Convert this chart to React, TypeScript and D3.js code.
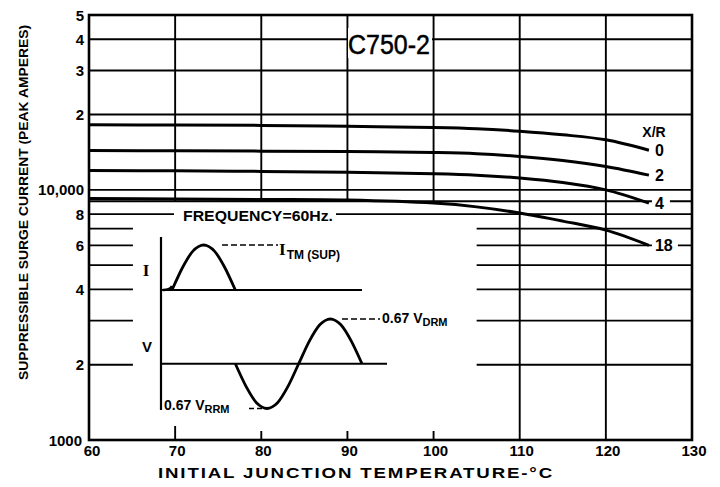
import React, { useEffect, useRef } from "react"
import * as d3 from "d3"

// initial junction temperature, deg C
const TEMPS = [60, 70, 80, 90, 100, 105, 110, 115, 120, 125]
// suppressible surge current (peak amperes) for each X/R ratio
const XR_0 = [18200, 18150, 18100, 17950, 17750, 17550, 17150, 16600, 15850, 14400]
const XR_2 = [14350, 14320, 14280, 14230, 14100, 13950, 13600, 13100, 12400, 11450]
const XR_4 = [11950, 11920, 11850, 11750, 11600, 11450, 11150, 10700, 10000, 8850]
const XR_18 = [9230, 9200, 9150, 9100, 8850, 8550, 8080, 7500, 6900, 6000]
const XR_LABELS = ["0", "2", "4", "18"]

const X_TICKS = [60, 70, 80, 90, 100, 110, 120, 130]
const Y_TICKS = [50000, 40000, 30000, 20000, 10000, 8000, 6000, 4000, 2000]
const Y_TICK_LABELS = ["5", "4", "3", "2", "10,000", "8", "6", "4", "2"]
const FULL_GRID = [40000, 30000, 20000, 10000, 9000, 8000]
const SPLIT_GRID = [7000, 6000, 5000, 4000, 3000, 2000]

// inset waveforms: phase in degrees, level as fraction of peak
const I_WAVE = [[0, 0], [30, 0.5], [60, 0.87], [90, 1], [120, 0.87], [150, 0.5], [180, 0]]
const V_WAVE = [
  [180, 0], [210, -0.5], [240, -0.87], [270, -1], [300, -0.87], [330, -0.5], [360, 0],
  [390, 0.5], [420, 0.87], [450, 1], [480, 0.87], [510, 0.5], [540, 0],
]

const W = 720
const H = 487
const SANS = "'Liberation Sans', Arial, sans-serif"
const SERIF = "'Liberation Serif', 'Times New Roman', serif"

const App = () => {
  const ref = useRef<SVGSVGElement>(null)

  useEffect(() => {
    const svg = d3.select(ref.current)
    svg.selectAll("*").remove()

    const x = d3.scaleLinear().domain([60, 130]).range([89, 692])
    const y = d3.scaleLog().domain([1000, 50000]).range([440, 15])

    svg.append("rect").attr("width", W).attr("height", H).attr("fill", "#fff")

    const grid = svg.append("g").attr("stroke", "#000").attr("stroke-width", 1.9)

    FULL_GRID.forEach(v => {
      grid.append("line")
        .attr("x1", x(60)).attr("x2", x(130))
        .attr("y1", y(v)).attr("y2", y(v))
    })
    // lower lines are interrupted by the inset
    SPLIT_GRID.forEach(v => {
      grid.append("line")
        .attr("x1", x(60)).attr("x2", x(65.1))
        .attr("y1", y(v)).attr("y2", y(v))
      grid.append("line")
        .attr("x1", x(105)).attr("x2", x(130))
        .attr("y1", y(v)).attr("y2", y(v))
    })

    // verticals
    ;[110, 120].forEach(t => {
      grid.append("line").attr("x1", x(t)).attr("x2", x(t)).attr("y1", y(50000)).attr("y2", y(1000))
    })
    ;[70, 80, 90, 100].forEach(t => {
      grid.append("line").attr("x1", x(t)).attr("x2", x(t)).attr("y1", y(50000)).attr("y2", y(9000))
      grid.append("line").attr("x1", x(t)).attr("x2", x(t))
        .attr("y1", y(1000) - (t === 70 ? 14 : 9)).attr("y2", y(1000))
    })

    // frame
    svg.append("rect")
      .attr("x", x(60)).attr("y", y(50000))
      .attr("width", x(130) - x(60)).attr("height", y(1000) - y(50000))
      .attr("fill", "none").attr("stroke", "#000").attr("stroke-width", 2.6)

    // curves
    const line = d3.line<number>()
      .x((_, i) => x(TEMPS[i]))
      .y(d => y(d))
      .curve(d3.curveCatmullRom.alpha(0.5))

    const series = [XR_0, XR_2, XR_4, XR_18]
    series.forEach(s => {
      svg.append("path")
        .attr("d", line(s))
        .attr("fill", "none")
        .attr("stroke", "#000")
        .attr("stroke-width", 3)
    })

    const bold = (sel: any, size: number) =>
      sel.attr("font-family", SANS).attr("font-weight", "bold").attr("font-size", size).attr("fill", "#000")

    // curve labels
    series.forEach((s, i) => {
      const ex = x(TEMPS[TEMPS.length - 1])
      const ey = y(s[s.length - 1])
      const lw = XR_LABELS[i].length > 1 ? 18 : 10
      svg.append("rect").attr("x", ex + 3).attr("y", ey - 9).attr("width", lw + 8).attr("height", 18).attr("fill", "#fff")
      bold(svg.append("text"), 16)
        .attr("x", ex + 6).attr("y", ey + 6)
        .text(XR_LABELS[i])
    })
    bold(svg.append("text"), 14)
      .attr("x", 654).attr("y", 137).attr("text-anchor", "middle")
      .text("X/R")

    // title
    svg.append("rect").attr("x", 348).attr("y", 28).attr("width", 84).attr("height", 30).attr("fill", "#fff")
    svg.append("text")
      .attr("x", 389).attr("y", 54).attr("text-anchor", "middle")
      .attr("font-family", SANS).attr("font-size", 27)
      .attr("stroke", "#000").attr("stroke-width", 0.5)
      .attr("textLength", 82).attr("lengthAdjust", "spacingAndGlyphs")
      .text("C750-2")

    // frequency note
    svg.append("rect").attr("x", 174).attr("y", 206).attr("width", 162).attr("height", 18).attr("fill", "#fff")
    bold(svg.append("text"), 14)
      .attr("x", 183).attr("y", 221)
      .attr("textLength", 150).attr("lengthAdjust", "spacingAndGlyphs")
      .text("FREQUENCY=60Hz.")

    // ticks
    Y_TICKS.forEach((v, i) => {
      bold(svg.append("text"), 15)
        .attr("x", 84).attr("y", y(v) + 5.5).attr("text-anchor", "end")
        .text(Y_TICK_LABELS[i])
    })
    bold(svg.append("text"), 15)
      .attr("x", 82).attr("y", 446).attr("text-anchor", "end")
      .text("1000")
    X_TICKS.forEach(t => {
      bold(svg.append("text"), 15)
        .attr("x", x(t) + (t === 60 ? 3 : 2)).attr("y", 456).attr("text-anchor", "middle")
        .text(String(t))
    })

    // axis titles
    bold(svg.append("text"), 15)
      .attr("x", 158).attr("y", 478)
      .attr("letter-spacing", 1.5)
      .attr("textLength", 396).attr("lengthAdjust", "spacingAndGlyphs")
      .text("INITIAL JUNCTION TEMPERATURE-°C")
    bold(svg.append("text"), 13)
      .attr("transform", "translate(28,380) rotate(-90)")
      .attr("textLength", 355).attr("lengthAdjust", "spacingAndGlyphs")
      .text("SUPPRESSIBLE SURGE CURRENT (PEAK AMPERES)")

    // inset sketch
    const ph = d3.scaleLinear().domain([0, 540]).range([172, 362])
    const iy = d3.scaleLinear().domain([0, 1]).range([290, 245])
    const vy = d3.scaleLinear().domain([-1, 1]).range([408.5, 319])
    const inset = svg.append("g").attr("stroke", "#000").attr("fill", "none")

    inset.append("line").attr("x1", 161).attr("x2", 161).attr("y1", 237).attr("y2", 410).attr("stroke-width", 2.2)
    inset.append("line").attr("x1", 161).attr("x2", 362).attr("y1", iy(0)).attr("y2", iy(0)).attr("stroke-width", 2)
    inset.append("line").attr("x1", 161).attr("x2", 387).attr("y1", vy(0)).attr("y2", vy(0)).attr("stroke-width", 2)

    const wave = (sy: any) => d3.line<number[]>().x(d => ph(d[0])).y(d => sy(d[1])).curve(d3.curveCardinal.tension(0.2))
    inset.append("path")
      .attr("d", "M163," + iy(0) + " Q170," + iy(0) + " " + ph(0) + "," + (iy(0) - 4))
      .attr("stroke-width", 2.6)
    inset.append("path").attr("d", wave(iy)(I_WAVE)).attr("stroke-width", 2.8)
    inset.append("path").attr("d", wave(vy)(V_WAVE)).attr("stroke-width", 2.8)

    // dashed leaders
    inset.append("line").attr("x1", 222).attr("x2", 278).attr("y1", iy(1)).attr("y2", iy(1))
      .attr("stroke-width", 1.6).attr("stroke-dasharray", "6,3")
    inset.append("line").attr("x1", 342).attr("x2", 380).attr("y1", vy(1)).attr("y2", vy(1))
      .attr("stroke-width", 1.6).attr("stroke-dasharray", "6,3")
    inset.append("line").attr("x1", 249).attr("x2", 266).attr("y1", vy(-1)).attr("y2", vy(-1))
      .attr("stroke-width", 1.6).attr("stroke-dasharray", "5,3")

    svg.append("text")
      .attr("x", 146).attr("y", 276).attr("text-anchor", "middle")
      .attr("font-family", SERIF).attr("font-weight", "bold").attr("font-size", 17)
      .text("I")
    bold(svg.append("text"), 15)
      .attr("x", 147).attr("y", 352).attr("text-anchor", "middle")
      .text("V")

    const itm = svg.append("text")
      .attr("x", 279).attr("y", 255)
      .attr("font-family", SERIF).attr("font-weight", "bold").attr("font-size", 17)
    itm.append("tspan").text("I")
    itm.append("tspan").attr("font-family", SANS).attr("font-size", 12).attr("dy", 4).attr("dx", 1).text("TM (SUP)")

    const vdrm = bold(svg.append("text"), 14).attr("x", 382).attr("y", 323)
    vdrm.append("tspan").text("0.67 V")
    vdrm.append("tspan").attr("font-size", 11).attr("dy", 3).text("DRM")

    const vrrm = bold(svg.append("text"), 14).attr("x", 164).attr("y", 410)
    vrrm.append("tspan").text("0.67 V")
    vrrm.append("tspan").attr("font-size", 11).attr("dy", 3).text("RRM")
  }, [])

  return (
    <svg
      ref={ref}
      width={W}
      height={H}
      style={{ position: "absolute", left: 0, top: 0, display: "block" }}
    />
  )
}

export default App
